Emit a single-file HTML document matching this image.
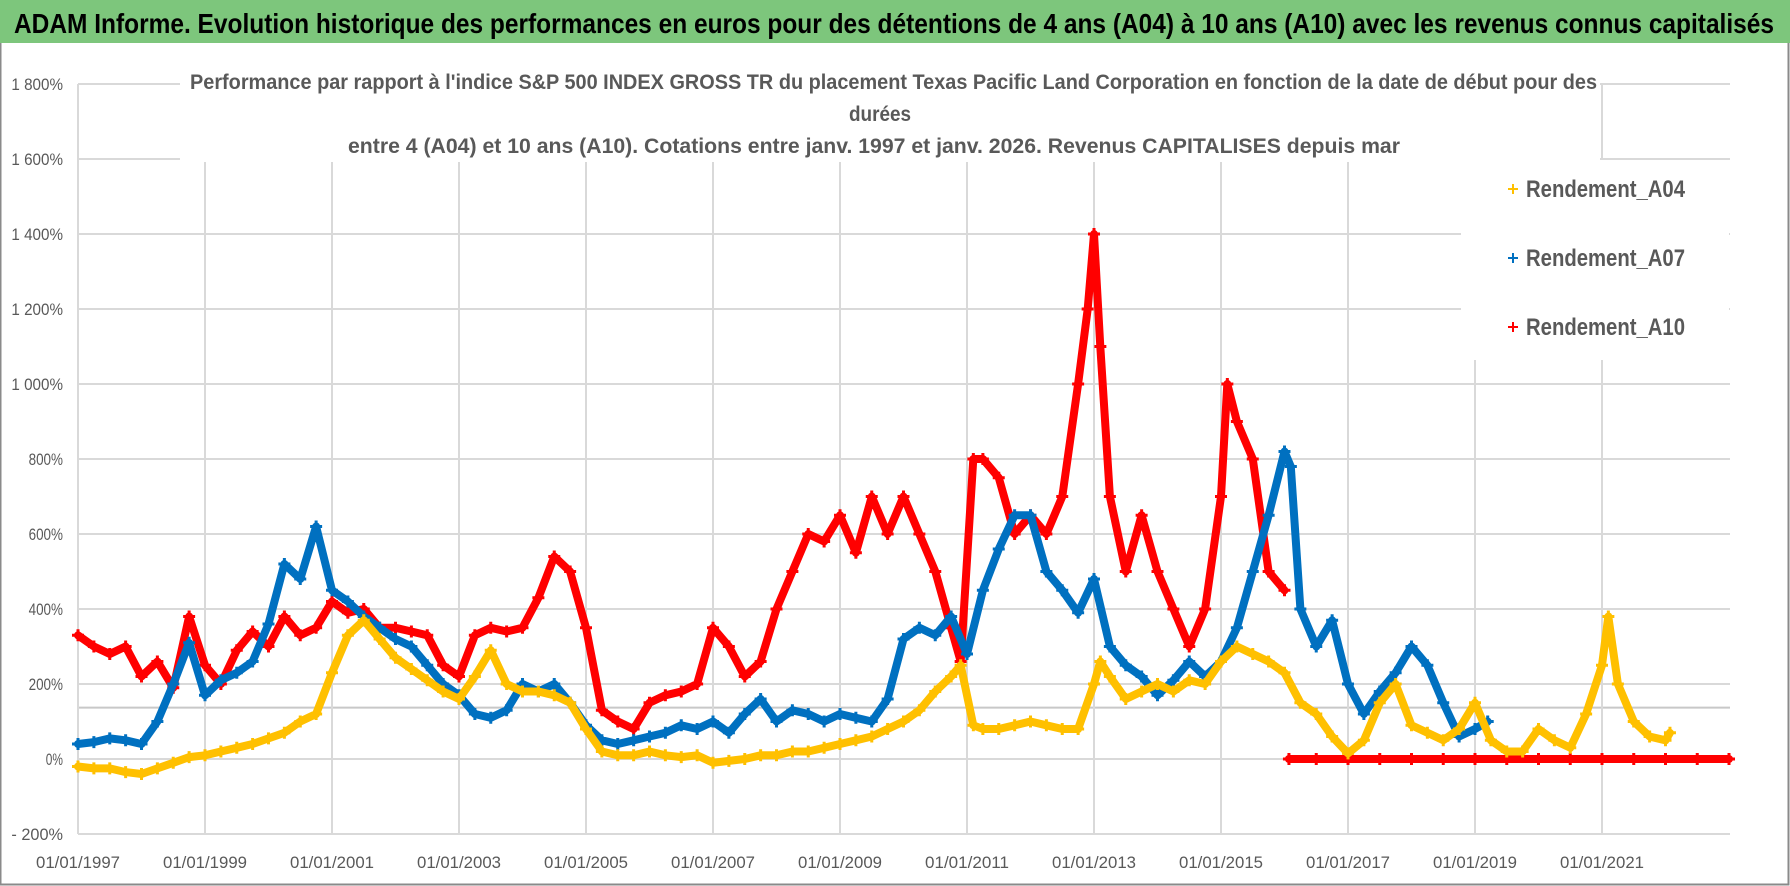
<!DOCTYPE html>
<html><head><meta charset="utf-8"><style>
html,body{margin:0;padding:0;background:#fff}
svg{display:block}
text{font-family:"Liberation Sans",sans-serif}
</style></head><body>
<svg id="chart" width="1790" height="886" viewBox="0 0 1790 886" xmlns="http://www.w3.org/2000/svg">
<rect x="0" y="0" width="1790" height="886" fill="#fff"/>
<rect x="0.5" y="0.5" width="1788" height="884" fill="none" stroke="#8a8a8a" stroke-width="2"/>
<rect x="0" y="0" width="1790" height="43" fill="#7dc67c"/>
<text x="14" y="33" font-size="28" font-weight="bold" fill="#000" textLength="1760" lengthAdjust="spacingAndGlyphs">ADAM Informe. Evolution historique des performances en euros pour des détentions de 4 ans (A04) à 10 ans (A10) avec les revenus connus capitalisés</text>
<g id="grid"></g>
<g id="series"></g>
<rect x="1461" y="160" width="268" height="200" fill="#fff"/>
<rect x="180" y="62" width="1420" height="100" fill="#fff"/>
<g fill="#595959" font-weight="bold" font-size="21">
<text x="190" y="89" textLength="1407" lengthAdjust="spacingAndGlyphs">Performance par rapport à l'indice S&amp;P 500 INDEX GROSS TR  du placement Texas Pacific Land Corporation en fonction de la date de début pour des</text>
<text x="880" y="121" text-anchor="middle" textLength="62" lengthAdjust="spacingAndGlyphs">durées</text>
<text x="348" y="153" textLength="1052" lengthAdjust="spacingAndGlyphs">entre 4 (A04) et 10 ans (A10). Cotations entre janv. 1997 et janv. 2026. Revenus CAPITALISES depuis mar</text>
</g>
<g id="legend"></g>
</svg>
<script>
const yearsA04=[1997,1997.25,1997.5,1997.75,1998,1998.25,1998.5,1998.75,1999,1999.25,1999.5,1999.75,2000,2000.25,2000.5,2000.75,2001,2001.25,2001.5,2001.75,2002,2002.25,2002.5,2002.75,2003,2003.25,2003.5,2003.75,2004,2004.25,2004.5,2004.75,2005,2005.25,2005.5,2005.75,2006,2006.25,2006.5,2006.75,2007,2007.25,2007.5,2007.75,2008,2008.25,2008.5,2008.75,2009,2009.25,2009.5,2009.75,2010,2010.25,2010.5,2010.75,2010.9,2011.1,2011.25,2011.5,2011.75,2012,2012.25,2012.5,2012.75,2013,2013.1,2013.25,2013.5,2013.75,2014,2014.25,2014.5,2014.75,2015,2015.25,2015.5,2015.75,2016,2016.25,2016.5,2016.75,2017,2017.25,2017.5,2017.75,2018,2018.25,2018.5,2018.75,2019,2019.25,2019.5,2019.75,2020,2020.25,2020.5,2020.75,2021,2021.1,2021.25,2021.5,2021.75,2022,2022.07];
const valsA04=[-20,-25,-25,-35,-40,-25,-10,5,10,20,30,40,55,70,100,120,230,330,370,320,270,240,210,180,160,220,290,200,180,180,170,150,80,20,10,10,20,10,5,10,-10,-5,0,10,10,20,20,30,40,50,60,80,100,130,180,220,250,90,80,80,90,100,90,80,80,200,260,220,160,180,200,180,210,200,260,300,280,260,230,150,120,60,15,50,150,200,90,70,50,80,150,50,20,20,80,50,30,120,250,380,200,100,60,50,70];
const yearsA07=[1997,1997.25,1997.5,1997.75,1998,1998.25,1998.5,1998.75,1999,1999.25,1999.5,1999.75,2000,2000.25,2000.5,2000.75,2001,2001.25,2001.5,2001.75,2002,2002.25,2002.5,2002.75,2003,2003.25,2003.5,2003.75,2004,2004.25,2004.5,2004.75,2005,2005.25,2005.5,2005.75,2006,2006.25,2006.5,2006.75,2007,2007.25,2007.5,2007.75,2008,2008.25,2008.5,2008.75,2009,2009.25,2009.5,2009.75,2010,2010.25,2010.5,2010.75,2011,2011.25,2011.5,2011.75,2012,2012.25,2012.5,2012.75,2013,2013.25,2013.5,2013.75,2014,2014.25,2014.5,2014.75,2015,2015.25,2015.5,2015.75,2016,2016.1,2016.25,2016.5,2016.75,2017,2017.25,2017.5,2017.75,2018,2018.25,2018.5,2018.75,2019,2019.2];
const valsA07=[40,45,55,50,40,100,200,310,170,210,230,260,360,520,480,620,450,420,380,350,320,300,250,200,170,120,110,130,200,180,200,150,90,50,40,50,60,70,90,80,100,70,120,160,100,130,120,100,120,110,100,160,320,350,330,380,280,450,560,650,650,500,450,390,480,300,250,220,170,210,260,220,260,350,500,650,820,780,400,300,370,200,120,180,230,300,250,150,60,80,100];
const yearsA10=[1997,1997.25,1997.5,1997.75,1998,1998.25,1998.5,1998.75,1999,1999.25,1999.5,1999.75,2000,2000.25,2000.5,2000.75,2001,2001.25,2001.5,2001.75,2002,2002.25,2002.5,2002.75,2003,2003.25,2003.5,2003.75,2004,2004.25,2004.5,2004.75,2005,2005.25,2005.5,2005.75,2006,2006.25,2006.5,2006.75,2007,2007.25,2007.5,2007.75,2008,2008.25,2008.5,2008.75,2009,2009.25,2009.5,2009.75,2010,2010.25,2010.5,2010.75,2010.9,2011.1,2011.25,2011.5,2011.75,2012,2012.25,2012.5,2012.75,2012.9,2013,2013.1,2013.25,2013.5,2013.75,2014,2014.25,2014.5,2014.75,2015,2015.1,2015.25,2015.5,2015.75,2016,2016.03,2016.07,2016.5,2017,2017.5,2018,2018.5,2019,2019.5,2020,2020.5,2021,2021.5,2022,2022.5,2023];
const valsA10=[330,300,280,300,220,260,190,380,250,200,290,340,300,380,330,350,420,390,400,350,350,340,330,250,220,330,350,340,350,430,540,500,350,130,100,80,150,170,180,200,350,300,220,260,400,500,600,580,650,550,700,600,700,600,500,350,260,800,800,750,600,650,600,700,1000,1200,1400,1100,700,500,650,500,400,300,400,700,1000,900,800,500,450,null,0,0,0,0,0,0,0,0,0,0,0,0,0,0,0];
const yTicks=[-200,0,200,400,600,800,1000,1200,1400,1600,1800];
const yTickLabels=["- 200%","0%","200%","400%","600%","800%","1 000%","1 200%","1 400%","1 600%","1 800%"];
const xTicks=[1997,1999,2001,2003,2005,2007,2009,2011,2013,2015,2017,2019,2021];
const xTickLabels=["01/01/1997","01/01/1999","01/01/2001","01/01/2003","01/01/2005","01/01/2007","01/01/2009","01/01/2011","01/01/2013","01/01/2015","01/01/2017","01/01/2019","01/01/2021"];
const seriesNames=["Rendement_A04","Rendement_A07","Rendement_A10"];

const NS="http://www.w3.org/2000/svg";
const X0=78,XR=1730,PX_PER_YEAR=63.5,Y0=759,PX_PER_PCT=75/200;
function xs(yr){return X0+(yr-1997)*PX_PER_YEAR;}
function ys(v){return Y0-v*PX_PER_PCT;}
function mk(tag,attrs,parent){const e=document.createElementNS(NS,tag);for(const k in attrs)e.setAttribute(k,attrs[k]);parent.appendChild(e);return e;}
const grid=document.getElementById('grid');
yTicks.forEach((t,i)=>{
  const l=mk('line',{x1:X0,x2:XR,y1:ys(t),y2:ys(t),stroke:'#d9d9d9','stroke-width':2},grid);
  
  
  const lab=yTickLabels[i];
  const tx=mk('text',{x:63,y:ys(t)+6,'text-anchor':'end','font-size':17,fill:'#595959',textLength:lab.length*8.6,lengthAdjust:'spacingAndGlyphs'},grid);
  tx.textContent=lab;
  
  
});
const extra=mk('line',{x1:X0,x2:XR,y1:ys(137),y2:ys(137),stroke:'#c8c8c8','stroke-width':2},grid);


xTicks.forEach((t,i)=>{
  const l=mk('line',{x1:xs(t),x2:xs(t),y1:ys(1800),y2:ys(-200),stroke:'#d9d9d9','stroke-width':2},grid);
  
  
  const tx=mk('text',{x:xs(t),y:868,'text-anchor':'middle','font-size':17,fill:'#595959',textLength:84,lengthAdjust:'spacingAndGlyphs'},grid);
  tx.textContent=xTickLabels[i];
  
  
});
const ser=document.getElementById('series');
function drawSeries(years,vals,color,name){
  const g=mk('g',{},ser);
  
  
  let segs=[[]];
  years.forEach((y,i)=>{ if(vals[i]===null){segs.push([]);} else segs[segs.length-1].push(xs(y).toFixed(1)+','+ys(vals[i]).toFixed(1)); });
  segs.forEach(s=>{ if(s.length<2) return;
    const pl=mk('polyline',{points:s.join(' '),fill:'none',stroke:color,'stroke-width':8,'stroke-linejoin':'round','stroke-linecap':'round'},g);
    
    
  });
  let d='';
  years.forEach((y,i)=>{ if(vals[i]===null) return; const cx=xs(y),cy=ys(vals[i]);d+=`M${cx-6},${cy}h12M${cx},${cy-6}v12`;});
  const p=mk('path',{d:d,stroke:color,'stroke-width':3,fill:'none'},g);
  
  
}
drawSeries(yearsA10,valsA10,'#ff0000','series-a10');
drawSeries(yearsA07,valsA07,'#0070c0','series-a07');
drawSeries(yearsA04,valsA04,'#ffc000','series-a04');
const leg=document.getElementById('legend');
const legColors=['#ffc000','#0070c0','#ff0000'];
seriesNames.forEach((n,i)=>{
  const y=197+i*69;
  const m=mk('path',{d:`M1508,${y-8}h10M1513,${y-13}v10`,stroke:legColors[i],'stroke-width':2},leg);
  
  
  const t=mk('text',{x:1526,y:y,'font-size':24,'font-weight':'bold',fill:'#595959',textLength:159,lengthAdjust:'spacingAndGlyphs'},leg);
  t.textContent=n;
  
  
});
</script>
</body></html>
